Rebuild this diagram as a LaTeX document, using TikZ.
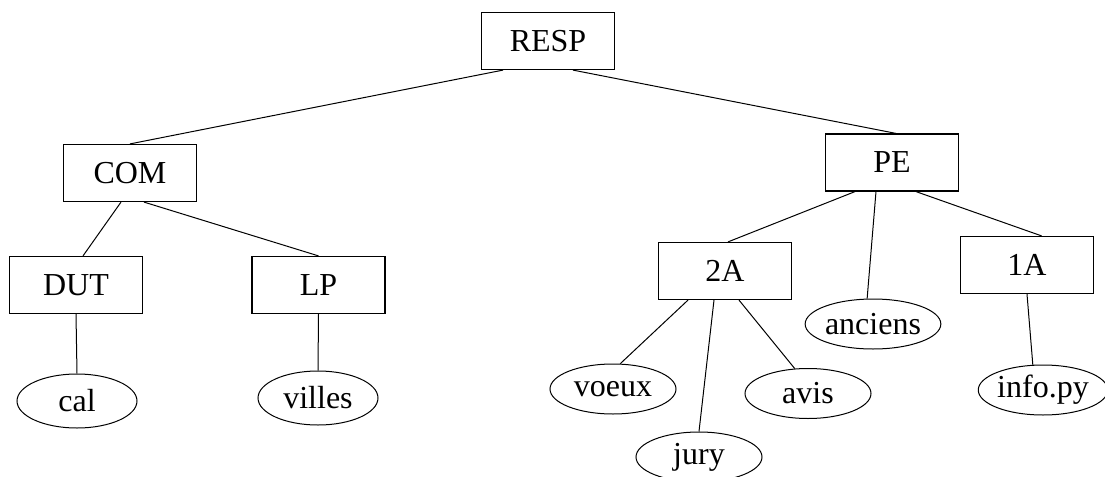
\documentclass[tikz,border=0pt]{standalone}
\usepackage{fontspec}
\setmainfont{Liberation Serif}
\usetikzlibrary{shapes.geometric}
\begin{document}
\begin{tikzpicture}[x=0.5pt,y=-0.5pt]
        \tikzset{
        dir node/.style={rectangle,draw,line width=0.6pt,minimum width=66.5pt,minimum height=28.5pt,inner sep=0,font=\fontsize{16}{19}\selectfont},
        file node/.style={ellipse,draw,line width=0.5pt,minimum width=63pt,minimum height=25pt,inner sep=0,font=\fontsize{16}{19}\selectfont},
        tree edge/.style={line width=0.5pt}
        }
        \useasboundingbox (0,0) rectangle (1105,477);
        \node[dir node] (RESP) at (548, 41) {RESP};
        \node[dir node] (COM) at (130, 173) {COM};
        \node[dir node] (PE) at (892, 162.5) {PE};
        \node[dir node] (DUT) at (76, 285) {DUT};
        \node[dir node] (LP) at (318.5, 285) {LP};
        \node[dir node] (2A) at (725, 271) {2A};
        \node[dir node] (1A) at (1027, 265) {1A};
        \node[file node, minimum width=60pt, minimum height=27pt] (cal) at (77, 401) {cal};
        \node[file node, minimum width=60pt, minimum height=27pt] (villes) at (318, 398) {villes};
        \node[file node] (voeux) at (613, 389) {voeux};
        \node[file node] (jury) at (699, 457) {jury};
        \node[file node] (avis) at (808, 393.5) {avis};
        \node[file node] (anciens) at (873, 324) {anciens};
        \node[file node] (infopy) at (1043, 390) {info.py};

        \path[-,draw,tree edge]
        ([xshift=-22.5pt]RESP.south) edge (COM.north)
        ([xshift=12.5pt]RESP.south) edge ([xshift=2pt]PE.north)
        ([xshift=-4.5pt]COM.south) edge ([xshift=3.5pt]DUT.north)
        ([xshift=7pt]COM.south) edge (LP.north)
        (DUT.south) edge (cal.north)
        (LP.south) edge (villes.north)
        ([xshift=-18.5pt]PE.south) edge ([xshift=1.5pt]2A.north)
        ([xshift=-8pt]PE.south) edge (anciens.103)
        ([xshift=12pt]PE.south) edge ([xshift=7.3pt]1A.north)
        ([xshift=-18.5pt]2A.south) edge (voeux.74)
        ([xshift=-5.5pt]2A.south) edge (jury.north)
        ([xshift=7pt]2A.south) edge (avis.118)
        (1A.south) edge (infopy.112)
        ;
    \end{tikzpicture}
\end{document}
